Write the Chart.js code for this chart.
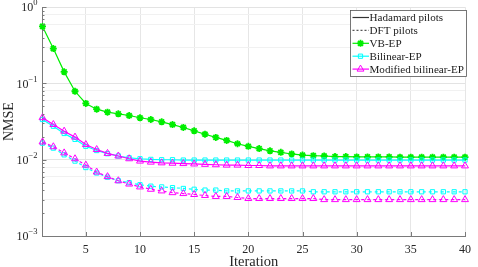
<!DOCTYPE html>
<html>
<head>
<meta charset="utf-8">
<script src="https://cdn.jsdelivr.net/npm/chart.js@4.4.1/dist/chart.umd.min.js"></script>
<style>
  body { margin: 0; background: #fff; }
</style>
</head>
<body>
<canvas id="chart" width="478" height="267"></canvas>
<script>
// iterations on the x axis
const iterations = [1, 2, 3, 4, 5, 6, 7, 8, 9, 10, 11, 12, 13, 14, 15, 16, 17, 18, 19, 20,
  21, 22, 23, 24, 25, 26, 27, 28, 29, 30, 31, 32, 33, 34, 35, 36, 37, 38, 39, 40];

// NMSE
const vbEpHadamard = [0.56, 0.287, 0.142, 0.079, 0.0547, 0.046, 0.042, 0.040, 0.038, 0.0355,
  0.0337, 0.0314, 0.0289, 0.0265, 0.0239, 0.0216, 0.0196, 0.0179, 0.0162, 0.0150,
  0.0140, 0.0131, 0.0125, 0.0119, 0.0115, 0.0113, 0.0112, 0.0110, 0.0110, 0.0109,
  0.0109, 0.0109, 0.0109, 0.0108, 0.0108, 0.0108, 0.0108, 0.0108, 0.0108, 0.0108];
const bilinearHadamard = [0.0337, 0.0275, 0.0221, 0.0185, 0.0150, 0.0132, 0.0120, 0.0112, 0.0106, 0.0103,
  0.0101, 0.0100, 0.0100, 0.0099, 0.0099, 0.0099, 0.0099, 0.0099, 0.0099, 0.0099,
  0.0099, 0.0099, 0.0099, 0.0099, 0.0099, 0.0099, 0.0099, 0.0099, 0.0099, 0.0099,
  0.0099, 0.0099, 0.0099, 0.0099, 0.0099, 0.0099, 0.0099, 0.0099, 0.0099, 0.0099];
const modifiedHadamard = [0.0356, 0.0290, 0.0237, 0.0198, 0.0158, 0.0136, 0.0121, 0.0112, 0.0103, 0.0096,
  0.0093, 0.0091, 0.0090, 0.0089, 0.0088, 0.0087, 0.0086, 0.0085, 0.0085, 0.0084,
  0.0084, 0.0083, 0.0083, 0.0083, 0.0083, 0.0083, 0.0083, 0.0083, 0.0083, 0.0083,
  0.0083, 0.0083, 0.0083, 0.0083, 0.0083, 0.0083, 0.0083, 0.0083, 0.0083, 0.0083];
const bilinearDft = [0.0165, 0.0142, 0.0116, 0.0096, 0.0079, 0.0067, 0.0059, 0.0053, 0.0050, 0.0047,
  0.0045, 0.0044, 0.0043, 0.0042, 0.0041, 0.0040, 0.0040, 0.0039, 0.0039, 0.0039,
  0.0039, 0.0039, 0.0039, 0.0039, 0.0039, 0.0038, 0.0038, 0.0038, 0.0038, 0.0038,
  0.0038, 0.0038, 0.0038, 0.0038, 0.0038, 0.0038, 0.0038, 0.0038, 0.0038, 0.0038];
const modifiedDft = [0.0171, 0.0148, 0.0123, 0.0103, 0.0085, 0.0069, 0.0060, 0.0053, 0.0048, 0.0044,
  0.0041, 0.0039, 0.0037, 0.0036, 0.0035, 0.0034, 0.0033, 0.0033, 0.0032, 0.0031,
  0.0031, 0.0031, 0.0031, 0.0031, 0.0031, 0.0031, 0.0030, 0.0030, 0.0030, 0.0030,
  0.0030, 0.0030, 0.0030, 0.0030, 0.0030, 0.0030, 0.0030, 0.0030, 0.0030, 0.0030];

// ticks
const xTickValues = [5, 10, 15, 20, 25, 30, 35, 40];
const yDecades = [0.001, 0.01, 0.1, 1];
const yExponents = ['−3', '−2', '−1', '0'];
const legendLabels = ['Hadamard pilots', 'DFT pilots', 'VB-EP', 'Bilinear-EP', 'Modified bilinear-EP'];

const serif = "'Liberation Serif', 'Times New Roman', serif";
const axisColor = '#7a7a7a';

function toPoints(arr) {
  return iterations.map((it, i) => ({ x: it, y: arr[i] }));
}

// log ticks: decades plus minor 2..9
let yTickValues = [];
for (let d = 0; d < yDecades.length; d++) {
  yTickValues.push(yDecades[d]);
  if (d < yDecades.length - 1) {
    for (let m = 2; m <= 9; m++) yTickValues.push(yDecades[d] * m);
  }
}
function isDecade(v) {
  const l = Math.log10(v);
  return Math.abs(l - Math.round(l)) < 1e-6;
}

const green = '#00ee00';
const cyan = '#00ffff';
const magenta = '#ff00ff';

const datasets = [
  { label: 'VB-EP', data: toPoints(vbEpHadamard), borderColor: green, backgroundColor: green,
    pointStyle: 'star', pointRadius: 3.5, pointBorderWidth: 1.8, borderWidth: 1.2, order: 5 },
  { label: 'Bilinear-EP', data: toPoints(bilinearHadamard), borderColor: cyan, backgroundColor: 'rgba(0,0,0,0)',
    pointStyle: 'rect', pointRadius: 3, pointBorderWidth: 1, borderWidth: 1.2, order: 4 },
  { label: 'Modified bilinear-EP', data: toPoints(modifiedHadamard), borderColor: magenta, backgroundColor: 'rgba(0,0,0,0)',
    pointStyle: 'triangle', pointRadius: 4, pointBorderWidth: 1, borderWidth: 1.2, order: 2 },
  { label: 'Bilinear-EP (DFT)', data: toPoints(bilinearDft), borderColor: cyan, backgroundColor: 'rgba(0,0,0,0)',
    pointStyle: 'rect', pointRadius: 3, pointBorderWidth: 1, borderWidth: 1.2, borderDash: [3, 3], order: 3 },
  { label: 'Modified bilinear-EP (DFT)', data: toPoints(modifiedDft), borderColor: magenta, backgroundColor: 'rgba(0,0,0,0)',
    pointStyle: 'triangle', pointRadius: 4, pointBorderWidth: 1, borderWidth: 1.2, borderDash: [3, 3], order: 1 }
];
datasets.forEach(ds => { ds.clip = false; ds.tension = 0; ds.fill = false; ds.pointBackgroundColor = ds.backgroundColor; });

// y labels with superscript, inward ticks and the legend box
const decorPlugin = {
  id: 'decor',
  afterDraw(chart) {
    const ctx = chart.ctx;
    const area = chart.chartArea;
    const ys = chart.scales.y;
    const xs = chart.scales.x;
    ctx.save();

    // inward tick marks
    ctx.strokeStyle = axisColor;
    ctx.lineWidth = 1;
    ctx.beginPath();
    xTickValues.forEach(v => {
      const px = Math.round(xs.getPixelForValue(v)) + 0.5;
      ctx.moveTo(px, area.bottom);
      ctx.lineTo(px, area.bottom - 4);
    });
    yTickValues.forEach(v => {
      const py = Math.round(ys.getPixelForValue(v)) + 0.5;
      ctx.moveTo(area.left, py);
      ctx.lineTo(area.left + (isDecade(v) ? 4 : 2), py);
    });
    ctx.stroke();

    // y tick labels 10^n
    ctx.fillStyle = '#262626';
    ctx.textBaseline = 'middle';
    yDecades.forEach((v, i) => {
      const py = ys.getPixelForValue(v);
      const right = area.left - 5;
      ctx.font = '8.5px ' + serif;
      const ew = ctx.measureText(yExponents[i]).width;
      ctx.textAlign = 'left';
      ctx.fillText(yExponents[i], right - ew, py - 4);
      ctx.font = '12px ' + serif;
      ctx.textAlign = 'right';
      ctx.fillText('10', right - ew, py + 1);
    });

    // legend
    const bx = 350.5, by = 10.5, bw = 116, bh = 66;
    ctx.fillStyle = '#fff';
    ctx.fillRect(bx, by, bw, bh);
    ctx.strokeStyle = '#555';
    ctx.lineWidth = 0.8;
    ctx.strokeRect(bx, by, bw, bh);

    const styles = [
      { color: '#333', dash: [], marker: null },
      { color: '#555', dash: [2, 2], marker: null },
      { color: green, dash: [], marker: datasets[0] },
      { color: cyan, dash: [], marker: datasets[1] },
      { color: magenta, dash: [], marker: datasets[2] }
    ];
    legendLabels.forEach((text, i) => {
      const cy = by + 7 + i * 12.9;
      const st = styles[i];
      ctx.strokeStyle = st.color;
      ctx.lineWidth = 1.2;
      ctx.setLineDash(st.dash);
      ctx.beginPath();
      ctx.moveTo(bx + 2, cy);
      ctx.lineTo(bx + 18.5, cy);
      ctx.stroke();
      ctx.setLineDash([]);
      if (st.marker) {
        ctx.fillStyle = st.marker.backgroundColor;
        ctx.lineWidth = st.marker.pointBorderWidth;
        Chart.helpers.drawPoint(ctx, {
          pointStyle: st.marker.pointStyle,
          radius: st.marker.pointRadius,
          borderWidth: st.marker.pointBorderWidth,
          rotation: 0
        }, bx + 10, cy);
      }
      ctx.fillStyle = '#1a1a1a';
      ctx.font = '11.1px ' + serif;
      ctx.textAlign = 'left';
      ctx.textBaseline = 'middle';
      ctx.fillText(text, bx + 19, cy + 0.5);
    });
    ctx.restore();
  }
};

const config = {
  type: 'line',
  data: { datasets: datasets },
  options: {
    responsive: false,
    animation: false,
    devicePixelRatio: 1,
    layout: { padding: { top: 7, right: 7, left: 0, bottom: 0 } },
    plugins: { legend: { display: false }, tooltip: { enabled: false } },
    scales: {
      x: {
        type: 'linear',
        min: 1,
        max: 40,
        afterBuildTicks: (scale) => { scale.ticks = xTickValues.map(v => ({ value: v })); },
        afterFit: (scale) => { scale.height = 31; },
        grid: { color: '#e6e6e6', drawTicks: false },
        border: { display: true, color: axisColor },
        ticks: { color: '#262626', font: { family: serif, size: 12 }, padding: 7, maxRotation: 0 },
        title: { display: true, text: 'Iteration', color: '#262626',
          font: { family: serif, size: 14.5 }, padding: { top: 0, bottom: -4 } }
      },
      y: {
        type: 'logarithmic',
        min: 0.001,
        max: 1,
        afterBuildTicks: (scale) => { scale.ticks = yTickValues.map(v => ({ value: v, major: isDecade(v) })); },
        afterFit: (scale) => { scale.width = 42.5; },
        grid: {
          color: (c) => (c.tick && isDecade(c.tick.value)) ? '#e3e3e3' : '#f1f1f1',
          drawTicks: false
        },
        border: { display: true, color: axisColor },
        ticks: { callback: () => '', padding: 0 },
        title: { display: true, text: 'NMSE', color: '#262626',
          font: { family: serif, size: 14 }, padding: { top: 1, bottom: 0 } }
      }
    }
  },
  plugins: [decorPlugin]
};

const chart = new Chart(document.getElementById('chart'), config);
</script>
</body>
</html>
